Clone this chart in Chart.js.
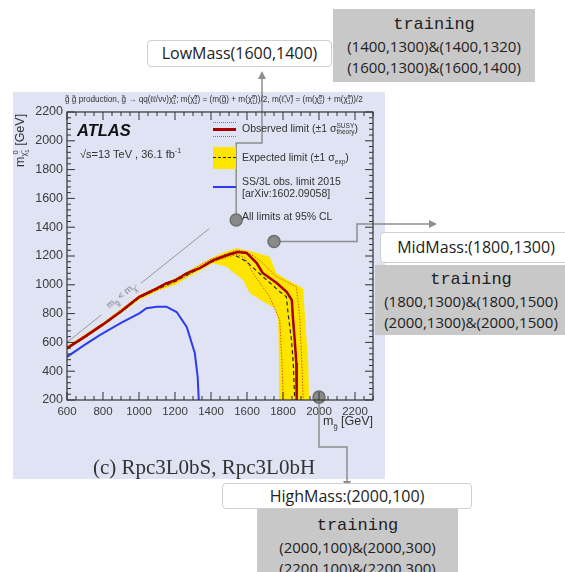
<!DOCTYPE html>
<html>
<head>
<meta charset="utf-8">
<script src="https://cdn.jsdelivr.net/npm/chart.js@4.4.1/dist/chart.umd.min.js"></script>
<style>
  body { margin: 0; background: #fff; width: 565px; height: 572px; overflow: hidden; position: relative; font-family: 'Liberation Sans', Arial, sans-serif; }
  .abs { position: absolute; white-space: nowrap; }
  #panel { left: 13px; top: 92px; width: 372px; height: 387px; background: #dfe3f3; }
  #wrap { left: 0; top: 0; width: 565px; height: 572px; }
  .ss { display: inline-flex; flex-direction: column; vertical-align: middle; font-size: 0.62em; line-height: 1; text-align: left; }
  .leg { font-size: 10.5px; color: #333; line-height: 12px; }
  .box { position: absolute; background: #fff; border: 1px solid #cfcfcf; border-radius: 4px; font-family: 'Open Sans', sans-serif; font-size: 16px; color: #222; text-align: center; box-sizing: border-box; white-space: nowrap; }
  .train { position: absolute; background: #c8c8c8; font-family: 'Open Sans', sans-serif; font-size: 15px; color: #222; text-align: center; box-sizing: border-box; white-space: nowrap; line-height: 21px; }
  .train .t { font-family: 'Liberation Mono', 'DejaVu Sans Mono', monospace; font-size: 17px; line-height: 22px; }
</style>
</head>
<body>
<div id="panel" class="abs"></div>
<div id="wrap" class="abs"><canvas id="chart" width="565" height="572"></canvas></div>

<!-- plot header and labels -->
<div class="abs" style="left:65px;top:95px;font-size:8.2px;color:#333;">g̃ g̃ production, g̃ → qq(ℓℓ/νν)χ̃<span class="ss"><span>0</span><span>1</span></span>; m(χ̃<span class="ss"><span>0</span><span>2</span></span>) = (m(g̃) + m(χ̃<span class="ss"><span>0</span><span>1</span></span>))/2, m(ℓ̃,ν̃) = (m(χ̃<span class="ss"><span>0</span><span>2</span></span>) + m(χ̃<span class="ss"><span>0</span><span>1</span></span>))/2</div>
<div class="abs" style="left:77px;top:121px;font-size:16.5px;font-weight:bold;font-style:italic;color:#111;">ATLAS</div>
<div class="abs" style="left:80px;top:147px;font-size:11px;color:#333;">√s=13 TeV , 36.1 fb<sup style="font-size:7px">-1</sup></div>

<div class="abs" style="left:12px;top:167px;transform:rotate(-90deg);transform-origin:left top;font-size:12.5px;color:#333;">m<span class="ss" style="font-size:0.6em"><span>&nbsp;0</span><span>χ̃<sub style="font-size:0.8em">1</sub></span></span> [GeV]</div>
<div class="abs" style="right:192px;top:414px;font-size:12.5px;color:#333;">m<sub style="font-size:0.6em">g̃</sub> [GeV]</div>
<div class="abs" style="left:121px;top:296px;transform:translate(-50%,-50%) rotate(-38.7deg);font-size:9.5px;color:#777;">m<sub style="font-size:0.7em">g̃</sub> &lt; m<sub style="font-size:0.7em">χ̃</sub></div>

<!-- legend -->
<div class="abs" style="left:213px;top:122px;width:23px;border-top:1px dotted #d05050;"></div>
<div class="abs" style="left:213px;top:128px;width:23px;height:2.5px;background:#a80000;"></div>
<div class="abs" style="left:213px;top:136px;width:23px;border-top:1px dotted #d05050;"></div>
<div class="abs leg" style="left:242px;top:122px;">Observed limit (±1 σ<span class="ss"><span>SUSY</span><span>theory</span></span>)</div>
<div class="abs" style="left:213px;top:147px;width:23px;height:22px;background:#fde500;"></div>
<div class="abs" style="left:213px;top:157px;width:23px;border-top:1.5px dashed #222;"></div>
<div class="abs leg" style="left:242px;top:151px;">Expected limit (±1 σ<sub style="font-size:0.62em">exp</sub>)</div>
<div class="abs" style="left:213px;top:186px;width:23px;height:2px;background:#2b3bf0;"></div>
<div class="abs leg" style="left:242px;top:175px;">SS/3L obs. limit 2015<br>[arXiv:1602.09058]</div>
<div class="abs leg" style="left:242px;top:210px;">All limits at 95% CL</div>

<div class="abs" style="left:204px;top:467px;transform:translate(-50%,-50%);font-family:'Liberation Serif','DejaVu Serif',serif;font-size:21px;color:#333;">(c) Rpc3L0bS, Rpc3L0bH</div>

<!-- annotation boxes -->
<div class="box" style="left:147px;top:40px;width:185px;height:27px;line-height:25px;">LowMass(1600,1400)</div>
<div class="train" style="left:333px;top:9px;width:202px;height:73px;padding-top:5px;"><div class="t">training</div>(1400,1300)&amp;(1400,1320)<br>(1600,1300)&amp;(1600,1400)</div>

<div class="box" style="left:380px;top:232px;width:192px;height:31px;line-height:29px;">MidMass:(1800,1300)</div>
<div class="train" style="left:375px;top:265px;width:200px;height:70px;padding-top:4px;padding-right:8px;"><div class="t">training</div>(1800,1300)&amp;(1800,1500)<br>(2000,1300)&amp;(2000,1500)</div>

<div class="box" style="left:222px;top:483px;width:250px;height:26px;line-height:24px;">HighMass:(2000,100)</div>
<div class="train" style="left:257px;top:509px;width:201px;height:70px;padding-top:6px;"><div class="t">training</div>(2000,100)&amp;(2000,300)<br>(2200,100)&amp;(2200,300)</div>

<script>
// axis ticks
const xTicks = [600, 800, 1000, 1200, 1400, 1600, 1800, 2000, 2200];
const yTicks = [200, 400, 600, 800, 1000, 1200, 1400, 1600, 1800, 2000, 2200];

// gluino mass, neutralino mass pairs [GeV]
const observed = [[600, 560], [700, 640], [800, 725], [900, 815], [1000, 915], [1100, 975], [1150, 1010], [1200, 1030], [1265, 1080], [1340, 1118], [1410, 1170], [1450, 1188], [1500, 1210], [1548, 1228], [1598, 1221], [1654, 1151], [1687, 1082], [1765, 1012], [1821, 950], [1849, 894], [1855, 776], [1865, 617], [1874, 457], [1876, 200]];
const observedUp = [[600, 568], [800, 733], [1000, 923], [1200, 1040], [1400, 1178], [1548, 1242], [1600, 1228], [1670, 1172], [1763, 1056], [1874, 987], [1893, 778], [1905, 450], [1912, 200]];
const observedDown = [[600, 552], [800, 717], [1000, 907], [1200, 1018], [1400, 1155], [1500, 1195], [1545, 1212], [1590, 1185], [1634, 1080], [1726, 917], [1782, 755], [1795, 450], [1801, 200]];
const expected = [[600, 556], [700, 636], [800, 721], [900, 811], [1000, 908], [1100, 970], [1200, 1024], [1300, 1090], [1400, 1155], [1504, 1219], [1550, 1195], [1598, 1160], [1689, 1056], [1782, 952], [1819, 917], [1828, 802], [1847, 617], [1857, 455], [1865, 200]];
// expected +-1 sigma band: outer edge, then inner edge back
const expectedBand = [[600, 575], [800, 738], [1000, 928], [1200, 1045], [1400, 1185], [1480, 1230], [1541, 1253], [1634, 1230], [1726, 1195], [1763, 1080], [1857, 1010], [1912, 976], [1921, 802], [1940, 455], [1945, 200],
  [1782, 200], [1778, 455], [1773, 756], [1754, 837], [1708, 871], [1615, 941], [1578, 1033], [1486, 1126], [1411, 1149], [1300, 1072], [1200, 1000], [1100, 955], [1000, 895], [800, 712], [600, 548]];
const ss3l2015 = [[600, 500], [700, 585], [782, 651], [900, 735], [1004, 804], [1041, 837], [1100, 848], [1152, 848], [1209, 811], [1265, 707], [1310, 526], [1326, 360], [1332, 200]];
const diagonal = [[600, 600], [790, 790], [900, null], [1010, 1010], [1390, 1390]];
const markers = [[1540, 1450], [1750, 1300], [2000, 220]];

const pts = arr => arr.map(([x, y]) => ({x, y}));

const frameTicks = {
    id: 'frameTicks',
    afterDatasetsDraw(chart) {
        const {ctx, chartArea: a, scales: {x, y}} = chart;
        ctx.save();
        ctx.strokeStyle = '#333';
        ctx.lineWidth = 1.2;
        ctx.strokeRect(a.left, a.top, a.right - a.left, a.bottom - a.top);
        ctx.lineWidth = 1;
        ctx.beginPath();
        for (let v = 600; v <= 2300; v += 50) {
            const px = x.getPixelForValue(v);
            const len = v % 200 === 0 ? 8 : 4;
            ctx.moveTo(px, a.bottom); ctx.lineTo(px, a.bottom - len);
            ctx.moveTo(px, a.top); ctx.lineTo(px, a.top + len);
        }
        for (let v = 200; v <= 2200; v += 40) {
            const py = y.getPixelForValue(v);
            const len = (v - 200) % 200 === 0 ? 8 : 4;
            ctx.moveTo(a.left, py); ctx.lineTo(a.left + len, py);
            ctx.moveTo(a.right, py); ctx.lineTo(a.right - len, py);
        }
        ctx.stroke();
        ctx.restore();
    }
};

const connectors = {
    id: 'connectors',
    beforeDatasetsDraw(chart) {
        const ctx = chart.ctx;
        const m = chart.getDatasetMeta(0).data;
        ctx.save();
        ctx.strokeStyle = '#8e8e8e';
        ctx.fillStyle = '#8e8e8e';
        ctx.lineWidth = 1.5;
        const path = ps => {
            ctx.beginPath();
            ctx.moveTo(ps[0][0], ps[0][1]);
            ps.slice(1).forEach(p => ctx.lineTo(p[0], p[1]));
            ctx.stroke();
        };
        const arrow = (x, y, dx, dy) => {
            ctx.beginPath();
            ctx.moveTo(x, y);
            ctx.lineTo(x - dx * 8 - dy * 4, y - dy * 8 - dx * 4);
            ctx.lineTo(x - dx * 8 + dy * 4, y - dy * 8 + dx * 4);
            ctx.closePath();
            ctx.fill();
        };
        path([[m[0].x, m[0].y], [m[0].x, 143], [262, 143], [262, 78]]);
        arrow(262, 71, 0, -1);
        path([[m[1].x, m[1].y], [357, m[1].y], [357, 224], [430, 224]]);
        arrow(437, 224, 1, 0);
        path([[m[2].x, m[2].y], [m[2].x, 447], [347, 447], [347, 482]]);
        arrow(347, 489, 0, 1);
        ctx.restore();
    }
};

const tickFont = {family: "'Liberation Sans', Arial, sans-serif", size: 11.5};

new Chart(document.getElementById('chart'), {
    type: 'line',
    data: {
        datasets: [
            {data: pts(markers), showLine: false, pointRadius: 6, pointBackgroundColor: '#8a8a8a', pointBorderColor: '#6e6e6e', pointBorderWidth: 1.5, clip: false, order: 0},
            {data: pts(observed), borderColor: '#a80000', borderWidth: 2.5, order: 1},
            {data: pts(expected), borderColor: '#2a2a2a', borderWidth: 1.2, borderDash: [4, 3], order: 2},
            {data: pts(observedUp), borderColor: 'rgba(200,40,30,0.75)', borderWidth: 1, borderDash: [1.5, 1.5], order: 3},
            {data: pts(observedDown), borderColor: 'rgba(200,40,30,0.75)', borderWidth: 1, borderDash: [1.5, 1.5], order: 3},
            {data: pts(ss3l2015), borderColor: '#2b3bf0', borderWidth: 2, order: 4},
            {data: pts(diagonal), borderColor: '#9a9a9a', borderWidth: 1, spanGaps: false, order: 5},
            {data: pts(expectedBand), borderWidth: 0, borderColor: 'rgba(0,0,0,0)', backgroundColor: '#fde500', fill: 'shape', order: 6}
        ]
    },
    options: {
        responsive: false,
        animation: false,
        events: [],
        layout: {padding: {left: 0, top: 112, right: 192, bottom: 144}},
        elements: {point: {radius: 0}, line: {tension: 0}},
        plugins: {legend: {display: false}, tooltip: {enabled: false}},
        scales: {
            x: {
                type: 'linear', min: 600, max: 2300,
                afterBuildTicks: s => { s.ticks = xTicks.map(v => ({value: v})); },
                afterFit: s => { s.height = 28; },
                grid: {display: false, drawTicks: false},
                border: {display: false},
                ticks: {font: tickFont, color: '#3c3c3c', padding: 5, maxRotation: 0, callback: v => String(v)}
            },
            y: {
                type: 'linear', min: 200, max: 2200,
                afterBuildTicks: s => { s.ticks = yTicks.map(v => ({value: v})); },
                afterFit: s => { s.width = 67; },
                grid: {display: false, drawTicks: false},
                border: {display: false},
                ticks: {font: {family: tickFont.family, size: 12.5}, color: '#3c3c3c', padding: 4, callback: v => String(v)}
            }
        }
    },
    plugins: [connectors, frameTicks]
});
</script>
</body>
</html>
